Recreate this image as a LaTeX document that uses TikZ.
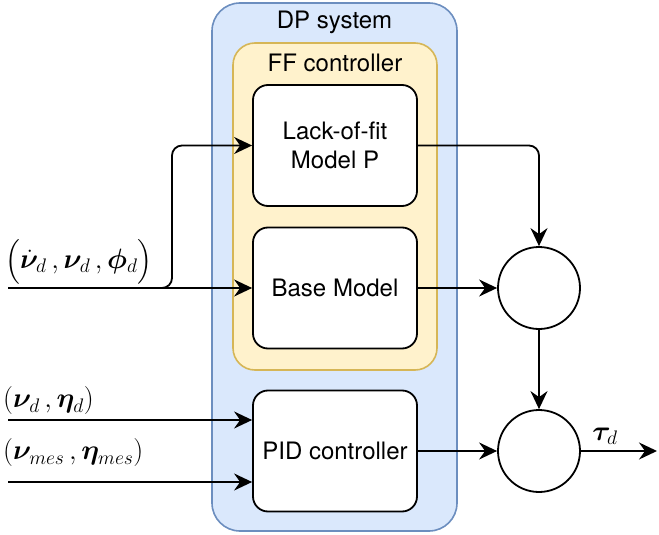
\RequirePackage{fix-cm}
\documentclass[tikz,border=0pt]{standalone}
\usepackage{amsmath}
\usepackage{bm}
\usepackage{fontspec}
\newfontfamily\heros{TeX Gyre Heros}
\usetikzlibrary{arrows.meta,positioning}

\begin{document}
\begin{tikzpicture}[x=1pt, y=-1pt,
        txt/.style={font=\heros\fontsize{24}{28.5}\selectfont},
        mathlbl/.style={font=\fontsize{28}{32}\selectfont, inner sep=0pt},
        dpbox/.style={draw=dpline, fill=dpfill, line width=1.6pt, rounded corners=28pt},
        ffbox/.style={draw=ffline, fill=fffill, line width=1.6pt, rounded corners=22pt},
        block/.style={draw, fill=white, line width=1.8pt, rounded corners=15pt,
            minimum width=164pt, minimum height=121pt, align=center, txt},
        sumnode/.style={draw, fill=white, circle, line width=1.8pt, minimum size=82pt},
        arr/.style={line width=1.8pt, -{Stealth[length=18pt, width=17pt, inset=6pt]}}]

    % Definindo cores
    \definecolor{dpfill}{RGB}{218, 232, 252} % azul do sistema DP
    \definecolor{dpline}{RGB}{108, 142, 191}
    \definecolor{fffill}{RGB}{255, 242, 204} % amarelo do controlador FF
    \definecolor{ffline}{RGB}{214, 182, 86}

    \useasboundingbox (0,0) rectangle (659,535);

    % 1. Caixas de fundo (DP system e FF controller)
    \node[dpbox, minimum width=245pt, minimum height=528pt] (dp) at (334.5,267) {};
    \node[txt, anchor=base] (dptitle) at (334.5,29) {DP system};
    \node[ffbox, minimum width=204pt, minimum height=327pt] (ff) at (335,206.5) {};
    \node[txt, anchor=base] (fftitle) at (335,71) {FF controller};

    % 2. Blocos internos
    \node[block] (lof) at (335,145.5) {Lack-of-fit\\Model P};
    \node[block] (base) at (335,288) {Base Model};
    \node[block] (pid) at (335,451) {PID controller};

    % 3. Somadores
    \node[sumnode] (sum1) at (539,288) {};
    \node[sumnode] (sum2) at (539,451) {};

    % 4. Entradas (esquerda)
    \coordinate (refin) at (8,288);
    \coordinate (split) at (172,288);
    \coordinate (pidin1) at (8,420);
    \coordinate (pidin2) at (8,482);
    \coordinate (out) at (657,451);

    \draw[arr] (refin) -- (base.west);
    \draw[arr, rounded corners=10pt] (refin) -- (split) -- (split |- lof.west) -- (lof.west);
    \draw[arr] (pidin1) -- (pidin1 -| pid.west);
    \draw[arr] (pidin2) -- (pidin2 -| pid.west);

    \node[mathlbl, anchor=south west] (reflbl) at (5,284)
        {$\bigl(\dot{\bm{\nu}}_d\,,\bm{\nu}_d\,,\bm{\phi}_d\bigr)$};
    \node[mathlbl, anchor=south west] (pidlbl1) at (3,415)
        {$(\bm{\nu}_d\,,\bm{\eta}_d)$};
    \node[mathlbl, anchor=south west] (pidlbl2) at (3,467)
        {$(\bm{\nu}_{mes}\,,\bm{\eta}_{mes})$};

    % 5. Ligacoes internas e saida
    \draw[arr, rounded corners=10pt] (lof.east) -| (sum1.north);
    \draw[arr] (base.east) -- (sum1.west);
    \draw[arr] (sum1.south) -- (sum2.north);
    \draw[arr] (pid.east) -- (sum2.west);
    \draw[arr] (sum2.east) -- (out);
    \node[mathlbl, anchor=base] (taulbl) at (605,440) {$\bm{\tau}_d$};

\end{tikzpicture}
\end{document}
